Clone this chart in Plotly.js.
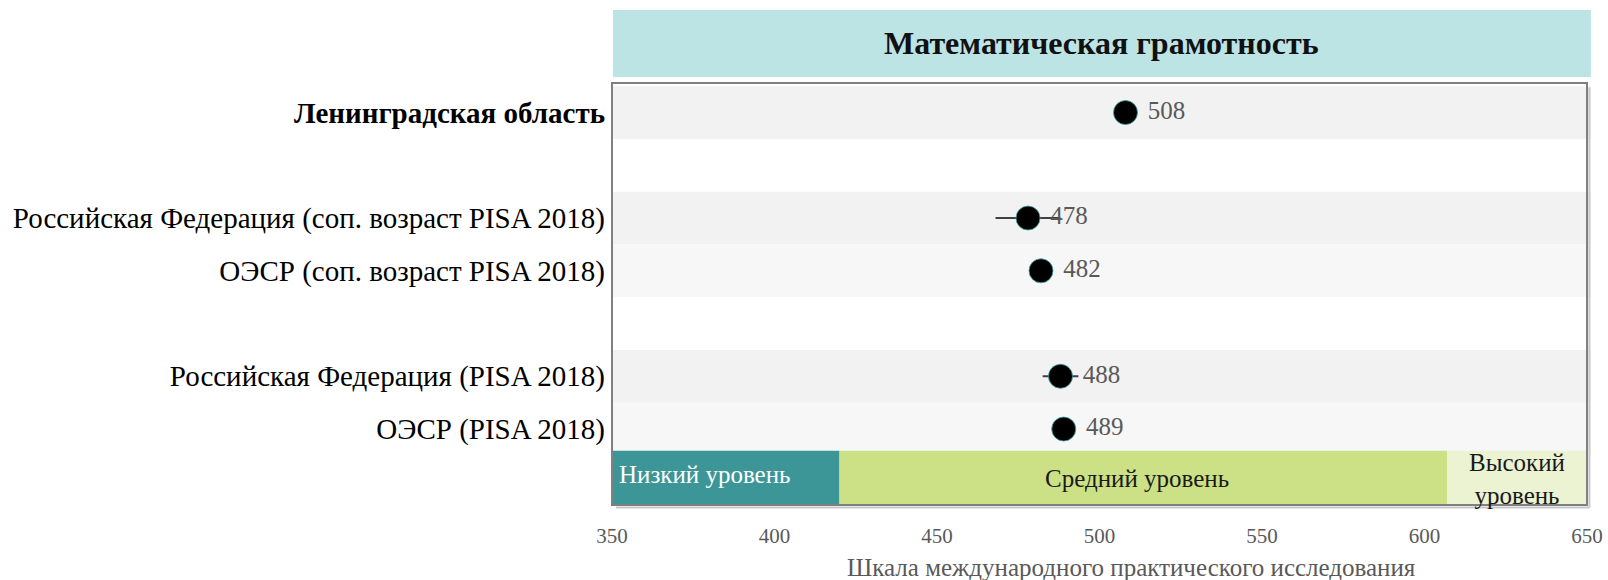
<!DOCTYPE html>
<html>
<head>
<meta charset="utf-8">
<script src="https://cdn.plot.ly/plotly-3.0.1.min.js"></script>
<style>html,body{margin:0;padding:0;background:#fff;}#chart{width:1608px;height:580px;}</style>
</head>
<body>
<div id="chart"></div>
<script>
// ---- data ----
const rowLabels = [
  "<b>Ленинградская область</b>",
  " ",
  "Российская Федерация (соп. возраст PISA 2018)",
  "ОЭСР (соп. возраст PISA 2018)",
  "  ",
  "Российская Федерация (PISA 2018)",
  "ОЭСР (PISA 2018)",
  "   "
];
const pointLabels = [
  "<b>Ленинградская область</b>",
  "Российская Федерация (соп. возраст PISA 2018)",
  "ОЭСР (соп. возраст PISA 2018)",
  "Российская Федерация (PISA 2018)",
  "ОЭСР (PISA 2018)"
];
const scores = [508, 478, 482, 488, 489];
const errors = [0.5, 10, 0.5, 5.5, 0.5];
const levelNames = ["Низкий уровень", "Средний уровень", "Высокий<br>уровень"];
const levelStart = [349.5, 420, 607];
const levelEnd = [420, 607, 651];
const levelColors = ["#3c9698", "#cce085", "#ebf3d3"];
const levelTextColors = ["#ffffff", "#1a1a1a", "#1a1a1a"];
const rowFills = ["#f2f2f2", "#ffffff", "#f2f2f2", "#f7f7f7", "#ffffff", "#f2f2f2", "#f7f7f7"];
const chartTitle = "Математическая грамотность";
const xTitle = "Шкала международного практического исследования";
const xTicks = [350, 400, 450, 500, 550, 600, 650];

const FONT = "'Liberation Serif', 'Times New Roman', serif";

const shapes = [];
rowFills.forEach((c, i) => {
  shapes.push({type: 'rect', xref: 'paper', yref: 'y', x0: 0, x1: 1.004, y0: i - 0.5, y1: i + 0.5,
    fillcolor: c, line: {width: 0}, layer: 'below'});
});
levelStart.forEach((s, i) => {
  shapes.push({type: 'rect', xref: 'x', yref: 'y', x0: s, x1: levelEnd[i], y0: 6.41, y1: 7.5,
    fillcolor: levelColors[i], line: {width: 0}, layer: 'below'});
});
// title box
shapes.push({type: 'rect', xref: 'paper', yref: 'paper', x0: 0.001, x1: 1.004, y0: 1.014, y1: 1.173,
  fillcolor: '#bde4e5', line: {width: 0}});
// frame shadow (right and bottom) + frame
shapes.push({type: 'line', xref: 'paper', yref: 'paper', x0: 1.0025, x1: 1.0025, y0: 0.99, y1: -0.006,
  line: {color: '#c8c8c8', width: 2}});
shapes.push({type: 'line', xref: 'paper', yref: 'paper', x0: 0.004, x1: 1.0025, y0: -0.006, y1: -0.006,
  line: {color: '#c8c8c8', width: 2}});
shapes.push({type: 'rect', xref: 'paper', yref: 'paper', x0: 0, x1: 1, y0: 0, y1: 1,
  fillcolor: 'rgba(0,0,0,0)', line: {color: '#808080', width: 2}});

const annotations = [];
annotations.push({xref: 'paper', yref: 'paper', x: 0.502, y: 1.095, text: '<b>' + chartTitle + '</b>',
  showarrow: false, font: {family: FONT, size: 32, color: '#111'}, xanchor: 'center', yanchor: 'middle'});
// level labels
annotations.push({xref: 'x', yref: 'y', x: 351.5, y: 6.86, text: levelNames[0], showarrow: false,
  xanchor: 'left', yanchor: 'middle', font: {family: FONT, size: 25, color: levelTextColors[0]}});
annotations.push({xref: 'x', yref: 'y', x: 511.5, y: 6.94, text: levelNames[1], showarrow: false,
  xanchor: 'center', yanchor: 'middle', font: {family: FONT, size: 25, color: levelTextColors[1]}});
annotations.push({xref: 'x', yref: 'y', x: 628.5, y: 6.94, text: levelNames[2], showarrow: false,
  xanchor: 'center', yanchor: 'middle', font: {family: FONT, size: 25, color: levelTextColors[2]}});
// x-axis title
annotations.push({xref: 'paper', yref: 'paper', x: 0.533, y: -0.147, text: xTitle, showarrow: false,
  xanchor: 'center', yanchor: 'middle', font: {family: FONT, size: 25, color: '#595959'}});

const trace = {
  type: 'scatter', mode: 'markers+text',
  x: scores, y: pointLabels,
  text: scores.map(v => '\u00a0' + v), textposition: 'middle right',
  textfont: {family: FONT, size: 25, color: '#595959'},
  marker: {color: '#000000', size: 24, line: {color: '#3aa6a8', width: 0.8}},
  error_x: {type: 'data', array: errors, color: '#404040', thickness: 2, width: 0},
  hoverinfo: 'skip', cliponaxis: false
};

const layout = {
  width: 1608, height: 580,
  margin: {l: 612, r: 21, t: 83, b: 75},
  paper_bgcolor: '#ffffff', plot_bgcolor: '#ffffff',
  showlegend: false,
  xaxis: {range: [350, 650], tickvals: xTicks, ticktext: xTicks.map(String), showgrid: false,
    zeroline: false, showline: false, ticks: '', ticklen: 0, ticklabelstandoff: 16,
    tickfont: {family: FONT, size: 21, color: '#595959'}},
  yaxis: {type: 'category', categoryarray: rowLabels, categoryorder: 'array',
    range: [7.44, -0.56], showgrid: false, zeroline: false, showline: false, ticks: '',
    tickfont: {family: FONT, size: 29, color: '#000'}, ticklabelstandoff: 6},
  shapes: shapes, annotations: annotations
};

Plotly.newPlot('chart', [trace], layout, {displayModeBar: false, staticPlot: true});
</script>
</body>
</html>
